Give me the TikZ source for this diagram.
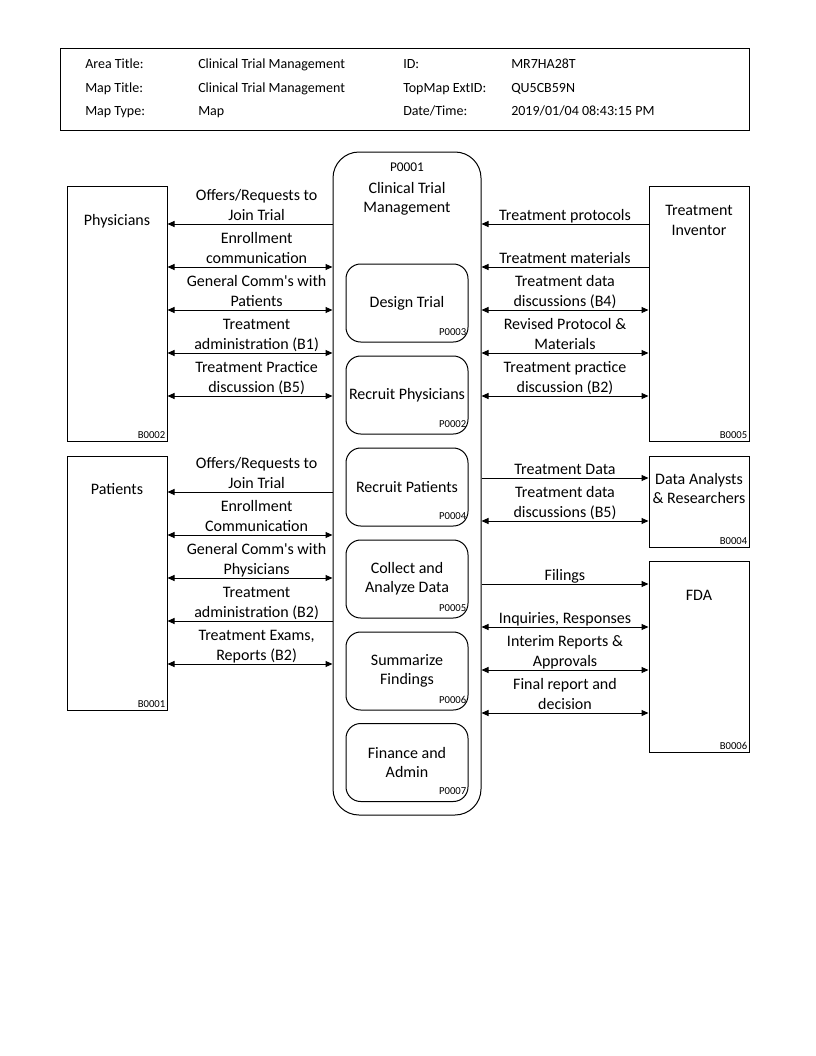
\documentclass[tikz,border=0pt]{standalone}
\usepackage{fontspec}
\setmainfont{Carlito}
\usetikzlibrary{arrows.meta,positioning}

\newcommand{\bodyfont}{\fontsize{12}{14.4}\selectfont}
\newcommand{\hdrfont}{\fontsize{10.5}{12.6}\selectfont}
\newcommand{\idfont}{\fontsize{8}{9.6}\selectfont}
\newcommand{\topidfont}{\fontsize{10}{12}\selectfont}

\begin{document}
\begin{tikzpicture}[x=0.75pt, y=-0.75pt,
    >={Triangle[length=5.25pt,width=4.5pt]},
    box/.style={draw, line width=0.75pt, rectangle, inner sep=0pt, minimum width=75pt},
    proc/.style={draw, line width=0.75pt, rounded corners=11pt, inner sep=0pt, minimum width=91.5pt, minimum height=58.5pt, align=center, font=\bodyfont},
    fl/.style={line width=0.75pt},
    lbl/.style={above, inner sep=0pt, yshift=-1.8pt, align=center, font=\bodyfont, execute at end node=\strut},
    ent/.style={align=center, font=\bodyfont},
    bid/.style={anchor=base east, inner sep=0pt, font=\idfont, xshift=-1.5pt, yshift=2pt},
    pid/.style={anchor=base east, inner sep=0pt, font=\idfont, xshift=-1.5pt, yshift=5.5pt},
    hdr/.style={anchor=base west, inner sep=0pt, font=\hdrfont}]

    \useasboundingbox (0,0) rectangle (816,1056);

    % header block
    \node[draw, line width=0.75pt, minimum width=516.75pt, minimum height=60.75pt] (hdrbox) at (404.5,89.5) {};
    \node[hdr] (h1) at (85,68.5) {Area Title:};
    \node[hdr] (h2) at (85,92.5) {Map Title:};
    \node[hdr] (h3) at (85,115.5) {Map Type:};
    \node[hdr] (v1) at (198,68.5) {Clinical Trial Management};
    \node[hdr] (v2) at (198,92.5) {Clinical Trial Management};
    \node[hdr] (v3) at (198,115.5) {Map};
    \node[hdr] (h4) at (403,68.5) {ID:};
    \node[hdr] (h5) at (403,92.5) {TopMap ExtID:};
    \node[hdr] (h6) at (403,115.5) {Date/Time:};
    \node[hdr] (v4) at (511,68.5) {MR7HA28T};
    \node[hdr] (v5) at (511,92.5) {QU5CB59N};
    \node[hdr] (v6) at (511,115.5) {2019/01/04 08:43:15 PM};

    % main process and sub-processes
    \node[draw, line width=0.75pt, rounded corners=19.5pt, minimum width=111pt, minimum height=497.25pt] (p1) at (407,483.5) {};
    \node[font=\topidfont, inner sep=0pt] (p1id) at (407,167) {P0001};
    \node[ent] (p1t) at (407,199) {Clinical Trial\\Management};

    \node[proc] (p3) at (407,303) {Design Trial};
    \node[proc] (p2) at (407,395) {Recruit Physicians};
    \node[proc] (p4) at (407,487) {Recruit Patients};
    \node[proc] (p5) at (407,579) {Collect and\\Analyze Data};
    \node[proc] (p6) at (407,671) {Summarize\\Findings};
    \node[proc] (p7) at (407,762.5) {Finance and\\Admin};
    \node[pid] at (p3.south east) {P0003};
    \node[pid] at (p2.south east) {P0002};
    \node[pid] at (p4.south east) {P0004};
    \node[pid] at (p5.south east) {P0005};
    \node[pid] at (p6.south east) {P0006};
    \node[pid] at (p7.south east) {P0007};

    % external entities
    \node[box, minimum height=191.25pt] (b2) at (117,313.5) {};
    \node[box, minimum height=190.5pt] (b1) at (117,583) {};
    \node[box, minimum height=191.25pt] (b5) at (699,313.5) {};
    \node[box, minimum height=68.25pt] (b4) at (699,501.5) {};
    \node[box, minimum height=143.25pt] (b6) at (699,656.5) {};
    \node[ent] (b2t) at (117,221) {Physicians};
    \node[ent] (b1t) at (117,489) {Patients};
    \node[ent] (b5t) at (699,220.5) {Treatment\\Inventor};
    \node[ent] (b4t) at (699,488.5) {Data Analysts\\\& Researchers};
    \node[ent] (b6t) at (699,595) {FDA};
    \node[bid] at (b2.south east) {B0002};
    \node[bid] at (b1.south east) {B0001};
    \node[bid] at (b5.south east) {B0005};
    \node[bid] at (b4.south east) {B0004};
    \node[bid] at (b6.south east) {B0006};

    % physicians flows
    \draw[fl, <-] (b2.east |- 0,224) -- node[lbl, pos=.54] {Offers/Requests to\\Join Trial} (p1.west |- 0,224);
    \draw[fl, <->] (b2.east |- 0,267) -- node[lbl, pos=.54] {Enrollment\\communication} (p1.west |- 0,267);
    \draw[fl, <->] (b2.east |- 0,310) -- node[lbl, pos=.54] {General Comm\textquotesingle s with\\Patients} (p1.west |- 0,310);
    \draw[fl, <->] (b2.east |- 0,353) -- node[lbl, pos=.54] {Treatment\\administration (B1)} (p1.west |- 0,353);
    \draw[fl, <->] (b2.east |- 0,396) -- node[lbl, pos=.54] {Treatment Practice\\discussion (B5)} (p1.west |- 0,396);

    % patients flows
    \draw[fl, <-] (b1.east |- 0,492) -- node[lbl, pos=.54] {Offers/Requests to\\Join Trial} (p1.west |- 0,492);
    \draw[fl, <->] (b1.east |- 0,535) -- node[lbl, pos=.54] {Enrollment\\Communication} (p1.west |- 0,535);
    \draw[fl, <->] (b1.east |- 0,578) -- node[lbl, pos=.54] {General Comm\textquotesingle s with\\Physicians} (p1.west |- 0,578);
    \draw[fl, <-] (b1.east |- 0,621) -- node[lbl, pos=.54] {Treatment\\administration (B2)} (p1.west |- 0,621);
    \draw[fl, <->] (b1.east |- 0,664) -- node[lbl, pos=.54] {Treatment Exams,\\Reports (B2)} (p1.west |- 0,664);

    % treatment inventor flows
    \draw[fl, <-] (p1.east |- 0,224) -- node[lbl] {Treatment protocols} (b5.west |- 0,224);
    \draw[fl, <-] (p1.east |- 0,267) -- node[lbl] {Treatment materials} (b5.west |- 0,267);
    \draw[fl, <->] (p1.east |- 0,310) -- node[lbl] {Treatment data\\discussions (B4)} (b5.west |- 0,310);
    \draw[fl, <->] (p1.east |- 0,353) -- node[lbl] {Revised Protocol \&\\Materials} (b5.west |- 0,353);
    \draw[fl, <->] (p1.east |- 0,396) -- node[lbl] {Treatment practice\\discussion (B2)} (b5.west |- 0,396);

    % analysts flows
    \draw[fl, ->] (p1.east |- 0,478) -- node[lbl] {Treatment Data} (b4.west |- 0,478);
    \draw[fl, <->] (p1.east |- 0,521) -- node[lbl] {Treatment data\\discussions (B5)} (b4.west |- 0,521);

    % FDA flows
    \draw[fl, ->] (p1.east |- 0,584) -- node[lbl] {Filings} (b6.west |- 0,584);
    \draw[fl, <->] (p1.east |- 0,627) -- node[lbl] {Inquiries, Responses} (b6.west |- 0,627);
    \draw[fl, <->] (p1.east |- 0,670) -- node[lbl] {Interim Reports \&\\Approvals} (b6.west |- 0,670);
    \draw[fl, <->] (p1.east |- 0,713) -- node[lbl] {Final report and\\decision} (b6.west |- 0,713);
\end{tikzpicture}
\end{document}
